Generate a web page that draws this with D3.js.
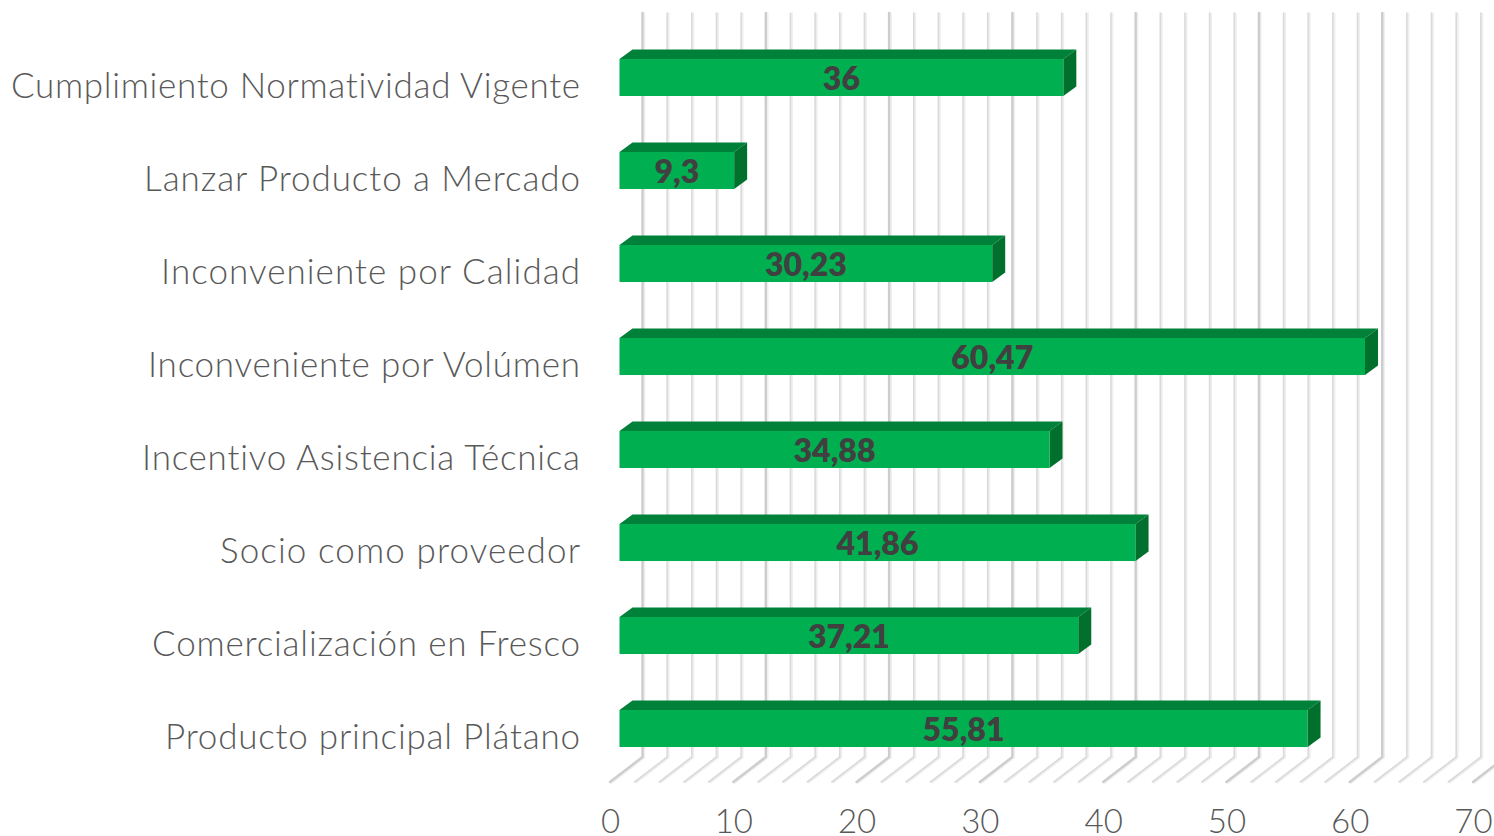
<!DOCTYPE html>
<html>
<head>
<meta charset="utf-8">
<script src="https://cdn.jsdelivr.net/npm/d3@7"></script>
<style>
  html, body { margin: 0; padding: 0; background: #fff; }
  svg { display: block; }
  text { font-family: Lato, "Open Sans", sans-serif; font-variant-ligatures: none; }
</style>
</head>
<body>
<svg id="chart" width="1494" height="836"></svg>
<script>
var categories = [
  "Cumplimiento Normatividad Vigente",
  "Lanzar Producto a Mercado",
  "Inconveniente por Calidad",
  "Inconveniente por Volúmen",
  "Incentivo Asistencia Técnica",
  "Socio como proveedor",
  "Comercialización en Fresco",
  "Producto principal Plátano"
];
var values = [36, 9.3, 30.23, 60.47, 34.88, 41.86, 37.21, 55.81];
var valueLabels = ["36", "9,3", "30,23", "60,47", "34,88", "41,86", "37,21", "55,81"];
var axisTicks = [0, 10, 20, 30, 40, 50, 60, 70];
var gridTicks = d3.range(0, 72, 2);
// width each category label has in the reference (font is not the same)
var labelWidths = [569, 436, 419, 432, 438, 360, 428, 415];

var svg = d3.select("#chart");

// front edge of the floor
var x = d3.scaleLinear().domain([0, 70]).range([610, 1473]);
var y = d3.scaleBand().domain(categories).range([31, 775]).paddingInner(0.602).paddingOuter(0.301);

var floorY = 782, depthX = 32.5, depthY = 25, wallTop = 13;
var barOffset = 9.5, barDepthX = 13, barDepthY = 9.5;

//-------------------------------
// grid: wall line plus floor diagonal
var grid = svg.append("g").attr("class", "grid");
gridTicks.forEach(function(t) {
  var major = t % 10 === 0;
  var pts = [[x(t) + depthX, wallTop], [x(t) + depthX, floorY - depthY], [x(t), floorY]];
  var line = d3.line();
  grid.append("path").attr("d", line(pts.map(function(p) { return [p[0] + 1.5, p[1] + 0.5]; })))
    .attr("fill", "none").attr("stroke", "#efefef").attr("stroke-width", major ? 2.5 : 2)
    .attr("stroke-linecap", "round");
  grid.append("path").attr("d", line(pts))
    .attr("fill", "none").attr("stroke", major ? "#cdcdcd" : "#dadada").attr("stroke-width", major ? 2.4 : 1.6)
    .attr("stroke-linecap", "round");
});

//-------------------------------
// bars
var bars = svg.selectAll(".bar").data(values).enter().append("g").attr("class", "bar");

function barLeft() { return x(0) + barOffset; }
function barRight(d) { return x(d) + barOffset; }
function barTop(i) { return y(categories[i]); }
function barBottom(i) { return y(categories[i]) + y.bandwidth(); }

bars.append("path")
  .attr("fill", "#00813a")
  .attr("d", function(d, i) {
    return d3.line()([[barLeft(), barTop(i)], [barLeft() + barDepthX, barTop(i) - barDepthY],
      [barRight(d) + barDepthX, barTop(i) - barDepthY], [barRight(d), barTop(i)]]) + "Z";
  });
bars.append("path")
  .attr("fill", "#00702c")
  .attr("d", function(d, i) {
    return d3.line()([[barRight(d), barTop(i)], [barRight(d) + barDepthX, barTop(i) - barDepthY],
      [barRight(d) + barDepthX, barBottom(i) - barDepthY], [barRight(d), barBottom(i)]]) + "Z";
  });
bars.append("rect")
  .attr("fill", "#00b050")
  .attr("x", barLeft())
  .attr("y", function(d, i) { return barTop(i); })
  .attr("width", function(d) { return barRight(d) - barLeft(); })
  .attr("height", y.bandwidth());

svg.selectAll(".value").data(values).enter().append("text")
  .attr("class", "value")
  .attr("x", function(d) { return (barLeft() + barRight(d)) / 2; })
  .attr("y", function(d, i) { return barTop(i) + y.bandwidth() / 2 + 12.5; })
  .attr("text-anchor", "middle")
  .attr("font-size", 32)
  .attr("font-weight", 800)
  .attr("fill", "#404040")
  .text(function(d, i) { return valueLabels[i]; });

//-------------------------------
// axes
var xAxis = svg.append("g")
  .attr("transform", "translate(0,810)")
  .call(d3.axisBottom(x).tickValues(axisTicks).tickSize(0).tickPadding(0).tickFormat(d3.format("d")));
xAxis.select(".domain").remove();
xAxis.selectAll("text")
  .attr("font-size", 33).attr("font-weight", 300).attr("fill", "#595959")
  .style("font-family", "Lato, 'Open Sans', sans-serif");

var yAxis = svg.append("g")
  .attr("transform", "translate(580,9)")
  .call(d3.axisLeft(y).tickSize(0).tickPadding(0));
yAxis.select(".domain").remove();
yAxis.selectAll("text")
  .attr("font-size", 35).attr("font-weight", 300).attr("fill", "#595959")
  .style("font-family", "Lato, 'Open Sans', sans-serif")
  .attr("textLength", function(d, i) { return labelWidths[i]; })
  .attr("lengthAdjust", "spacing");
</script>
</body>
</html>
